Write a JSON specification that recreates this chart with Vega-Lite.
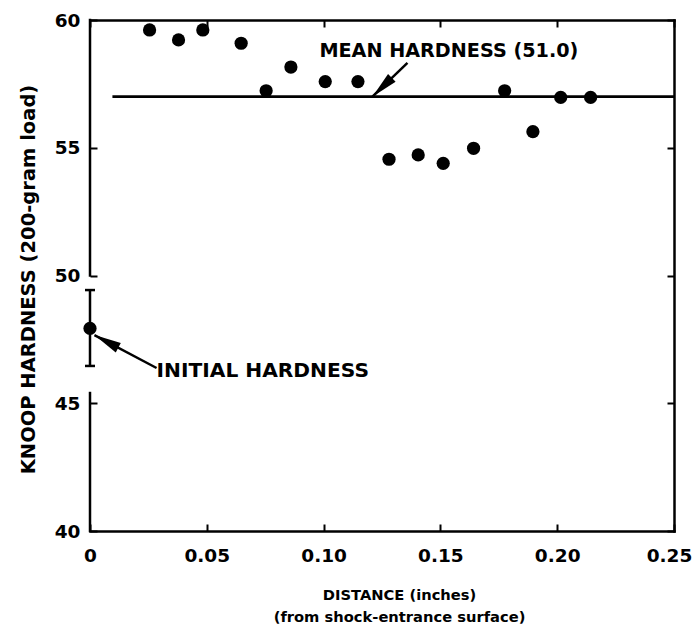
{
  "$schema": "https://vega.github.io/schema/vega-lite/v6.json",
  "width": 584,
  "height": 511,
  "autosize": {"type": "none"},
  "padding": {"left": 90, "top": 20, "right": 19, "bottom": 95},
  "background": "white",
  "config": {
    "view": {"stroke": null},
    "axis": {
      "domainColor": "black",
      "domainWidth": 2.5,
      "domainCap": "square",
      "tickColor": "black",
      "tickWidth": 2,
      "tickSize": -7,
      "grid": false,
      "labelFont": "DejaVu Sans",
      "labelFontWeight": "bold",
      "labelFontSize": 18.5,
      "labelColor": "black",
      "titleFont": "DejaVu Sans",
      "titleFontWeight": "bold",
      "titleColor": "black"
    }
  },
  "datasets": {
    "pts": [
      {"x": 0.0, "y": 47.93},
      {"x": 0.0255, "y": 59.61},
      {"x": 0.0379, "y": 59.22},
      {"x": 0.0483, "y": 59.61},
      {"x": 0.0647, "y": 59.09},
      {"x": 0.0754, "y": 57.23},
      {"x": 0.086, "y": 58.16},
      {"x": 0.1007, "y": 57.59},
      {"x": 0.1147, "y": 57.59},
      {"x": 0.128, "y": 54.55},
      {"x": 0.1405, "y": 54.72},
      {"x": 0.1512, "y": 54.39},
      {"x": 0.1642, "y": 54.98},
      {"x": 0.1775, "y": 57.23},
      {"x": 0.1896, "y": 55.63},
      {"x": 0.2015, "y": 56.97},
      {"x": 0.2143, "y": 56.97}
    ],
    "frameLeft": [{"y": 40, "y2": 45.4}, {"y": 50, "y2": 60}],
    "mean": [{"x": 0.0096, "x2": 0.25, "y": 57.0}],
    "err": [{"x": 0, "y": 46.46, "y2": 49.43}],
    "caps": [{"x": 0, "y": 46.46}, {"x": 0, "y": 49.43}],
    "arrows": [
      {"x": 0.1359, "y": 58.32, "x2": 0.1209, "y2": 57.0},
      {"x": 0.0285, "y": 46.38, "x2": 0.0019, "y2": 47.67}
    ],
    "headMean": [{"x": 0.1209, "y": 57.0}],
    "headInit": [{"x": 0.0019, "y": 47.67}],
    "labelMean": [{"x": 0.0982, "y": 58.55, "text": "MEAN HARDNESS (51.0)"}],
    "labelInit": [{"x": 0.0285, "y": 46.03, "text": "INITIAL HARDNESS"}]
  },
  "layer": [
    {
      "data": {"name": "frameLeft"},
      "mark": {"type": "rule", "color": "black", "strokeWidth": 2.5, "strokeCap": "square"},
      "encoding": {
        "x": {"datum": 0, "type": "quantitative", "scale": {"domain": [0, 0.25], "nice": false, "zero": false}, "axis": null},
        "y": {"field": "y", "type": "quantitative", "scale": {"domain": [40, 60], "nice": false, "zero": false}, "axis": null},
        "y2": {"field": "y2"}
      }
    },
    {
      "data": {"name": "mean"},
      "mark": {"type": "rule", "color": "black", "strokeWidth": 2.7},
      "encoding": {
        "x": {"field": "x", "type": "quantitative", "scale": {"domain": [0, 0.25], "nice": false, "zero": false},
          "axis": {"orient": "top", "values": [0, 0.05, 0.1, 0.15, 0.2, 0.25], "labels": false, "title": null}},
        "x2": {"field": "x2"},
        "y": {"field": "y", "type": "quantitative", "scale": {"domain": [40, 60], "nice": false, "zero": false},
          "axis": {"orient": "right", "values": [40, 45, 50, 55, 60], "labels": false, "title": null}}
      }
    },
    {
      "data": {"name": "err"},
      "mark": {"type": "rule", "color": "black", "strokeWidth": 2.5},
      "encoding": {
        "x": {"field": "x", "type": "quantitative", "scale": {"domain": [0, 0.25], "nice": false, "zero": false}, "axis": null},
        "y": {"field": "y", "type": "quantitative", "scale": {"domain": [40, 60], "nice": false, "zero": false}, "axis": null},
        "y2": {"field": "y2"}
      }
    },
    {
      "data": {"name": "caps"},
      "mark": {"type": "tick", "orient": "horizontal", "color": "black", "size": 10, "thickness": 2.5, "opacity": 1},
      "encoding": {
        "x": {"field": "x", "type": "quantitative", "scale": {"domain": [0, 0.25], "nice": false, "zero": false}, "axis": null},
        "y": {"field": "y", "type": "quantitative", "scale": {"domain": [40, 60], "nice": false, "zero": false}, "axis": null}
      }
    },
    {
      "data": {"name": "arrows"},
      "mark": {"type": "rule", "color": "black", "strokeWidth": 2.5},
      "encoding": {
        "x": {"field": "x", "type": "quantitative", "scale": {"domain": [0, 0.25], "nice": false, "zero": false}, "axis": null},
        "y": {"field": "y", "type": "quantitative", "scale": {"domain": [40, 60], "nice": false, "zero": false}, "axis": null},
        "x2": {"field": "x2"},
        "y2": {"field": "y2"}
      }
    },
    {
      "data": {"name": "headMean"},
      "mark": {"type": "point", "shape": "M0,0L0.2,1L-0.2,1Z", "size": 2916, "filled": true, "color": "black", "opacity": 1, "angle": 226},
      "encoding": {
        "x": {"field": "x", "type": "quantitative", "scale": {"domain": [0, 0.25], "nice": false, "zero": false}, "axis": null},
        "y": {"field": "y", "type": "quantitative", "scale": {"domain": [40, 60], "nice": false, "zero": false}, "axis": null}
      }
    },
    {
      "data": {"name": "headInit"},
      "mark": {"type": "point", "shape": "M0,0L0.2,1L-0.2,1Z", "size": 2916, "filled": true, "color": "black", "opacity": 1, "angle": 298},
      "encoding": {
        "x": {"field": "x", "type": "quantitative", "scale": {"domain": [0, 0.25], "nice": false, "zero": false}, "axis": null},
        "y": {"field": "y", "type": "quantitative", "scale": {"domain": [40, 60], "nice": false, "zero": false}, "axis": null}
      }
    },
    {
      "data": {"name": "pts"},
      "mark": {"type": "circle", "size": 175, "color": "black", "opacity": 1},
      "encoding": {
        "x": {"field": "x", "type": "quantitative", "scale": {"domain": [0, 0.25], "nice": false, "zero": false},
          "axis": {
            "orient": "bottom",
            "values": [0, 0.05, 0.1, 0.15, 0.2, 0.25],
            "labelExpr": "datum.value == 0 ? '0' : format(datum.value, '.2f')",
            "labelPadding": 22,
            "labelFlush": false,
            "labelOffset": {"condition": {"test": "datum.value == 0.25", "value": -5}, "value": 0},
            "title": ["DISTANCE (inches)", "(from shock-entrance surface)"],
            "titleFontSize": 14.7,
            "titleX": 309,
            "titleY": 68,
            "titleAlign": "center",
            "titleBaseline": "alphabetic",
            "titleLineHeight": 22
          }},
        "y": {"field": "y", "type": "quantitative", "scale": {"domain": [40, 60], "nice": false, "zero": false},
          "axis": {
            "orient": "left",
            "values": [40, 45, 50, 55, 60],
            "domain": false,
            "labelPadding": 17,
            "labelFlush": false,
            "title": "KNOOP HARDNESS  (200-gram load)",
            "titleFontSize": 19.5,
            "titleAngle": -90,
            "titleX": -62,
            "titleY": 259,
            "titleAlign": "center",
            "titleBaseline": "middle"
          }}
      }
    },
    {
      "data": {"name": "labelMean"},
      "mark": {"type": "text", "font": "DejaVu Sans", "fontWeight": "bold", "fontSize": 19.2, "align": "left", "baseline": "alphabetic", "color": "black"},
      "encoding": {
        "x": {"field": "x", "type": "quantitative", "scale": {"domain": [0, 0.25], "nice": false, "zero": false}, "axis": null},
        "y": {"field": "y", "type": "quantitative", "scale": {"domain": [40, 60], "nice": false, "zero": false}, "axis": null},
        "text": {"field": "text"}
      }
    },
    {
      "data": {"name": "labelInit"},
      "mark": {"type": "text", "font": "DejaVu Sans", "fontWeight": "bold", "fontSize": 20.2, "align": "left", "baseline": "alphabetic", "color": "black"},
      "encoding": {
        "x": {"field": "x", "type": "quantitative", "scale": {"domain": [0, 0.25], "nice": false, "zero": false}, "axis": null},
        "y": {"field": "y", "type": "quantitative", "scale": {"domain": [40, 60], "nice": false, "zero": false}, "axis": null},
        "text": {"field": "text"}
      }
    }
  ]
}
